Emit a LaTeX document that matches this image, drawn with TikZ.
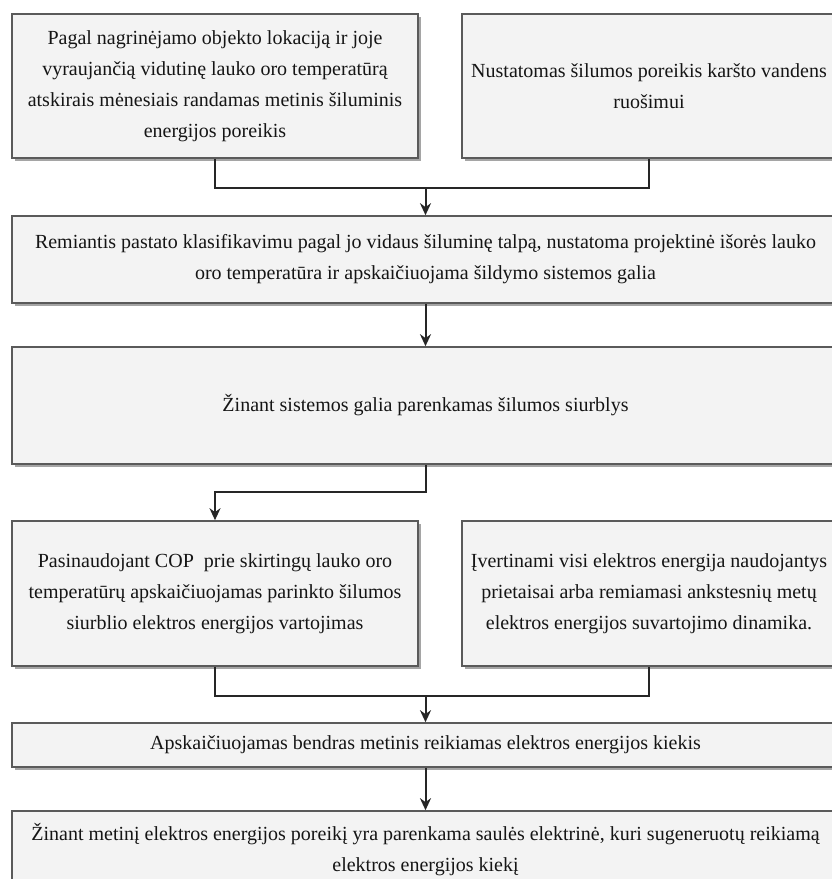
\documentclass[tikz,border=0pt]{standalone}
\usepackage{fontspec}
\setmainfont{Liberation Serif}
\usetikzlibrary{arrows.meta,shadows}
\definecolor{boxfill}{HTML}{F3F3F3}
\definecolor{boxline}{HTML}{5A5A5A}
\definecolor{txt}{HTML}{151515}
\begin{document}
\begin{tikzpicture}[x=1pt,y=-1pt,
  box/.style={draw=boxline, line width=1.6pt, fill=boxfill, align=center, inner sep=0pt,
    text=txt, font=\fontsize{20}{31}\selectfont,
    drop shadow={shadow xshift=3pt, shadow yshift=-3pt, fill=black!50, opacity=0.7}},
  link/.style={draw=black!85, line width=2pt},
  arr/.style={link, -{Stealth[length=12pt,width=11pt]}}]
\useasboundingbox (0,0) rectangle (831,879);
\fill[white] (0,0) rectangle (831,879);
\node[box, minimum width=406pt, minimum height=144pt] (b1) at (215,86)
  {Pagal nagrinėjamo objekto lokaciją ir joje\\vyraujančią vidutinę lauko oro temperatūrą\\atskirais mėnesiais randamas metinis šiluminis\\energijos poreikis};
\node[box, minimum width=374pt, minimum height=144pt] (b2) at (649,86)
  {Nustatomas šilumos poreikis karšto vandens\\ruošimui};
\node[box, minimum width=827pt, minimum height=87pt] (b3) at (425.5,259.5)
  {Remiantis pastato klasifikavimu pagal jo vidaus šiluminę talpą, nustatoma projektinė išorės lauko\\oro temperatūra ir apskaičiuojama šildymo sistemos galia};
\node[box, minimum width=827pt, minimum height=117pt] (b4) at (425.5,405.5)
  {Žinant sistemos galia parenkamas šilumos siurblys};
\node[box, minimum width=406pt, minimum height=145pt] (b5) at (215,593.5)
  {Pasinaudojant COP\ \ prie skirtingų lauko oro\\temperatūrų apskaičiuojamas parinkto šilumos\\siurblio elektros energijos vartojimas};
\node[box, minimum width=374pt, minimum height=145pt] (b6) at (649,593.5)
  {Įvertinami visi elektros energija naudojantys\\prietaisai arba remiamasi ankstesnių metų\\elektros energijos suvartojimo dinamika.};
\node[box, minimum width=827pt, minimum height=44pt] (b7) at (425.5,745)
  {Apskaičiuojamas bendras metinis reikiamas elektros energijos kiekis};
\node[box, minimum width=827pt, minimum height=77pt] (b8) at (425.5,849.5)
  {Žinant metinį elektros energijos poreikį yra parenkama saulės elektrinė, kuri sugeneruotų reikiamą\\elektros energijos kiekį};
\coordinate (j1) at (425.5,188);
\coordinate (j2) at (425.5,492);
\coordinate (j3) at (425.5,696);
\draw[link] (b1.south) |- (j1) -| (b2.south);
\draw[arr] (j1) -- (b3.north);
\draw[arr] (b3.south) -- (b4.north);
\draw[arr] (b4.south) -- (j2) -| (b5.north);
\draw[link] (b5.south) |- (j3) -| (b6.south);
\draw[arr] (j3) -- (b7.north);
\draw[arr] (b7.south) -- (b8.north);
\end{tikzpicture}
\end{document}
